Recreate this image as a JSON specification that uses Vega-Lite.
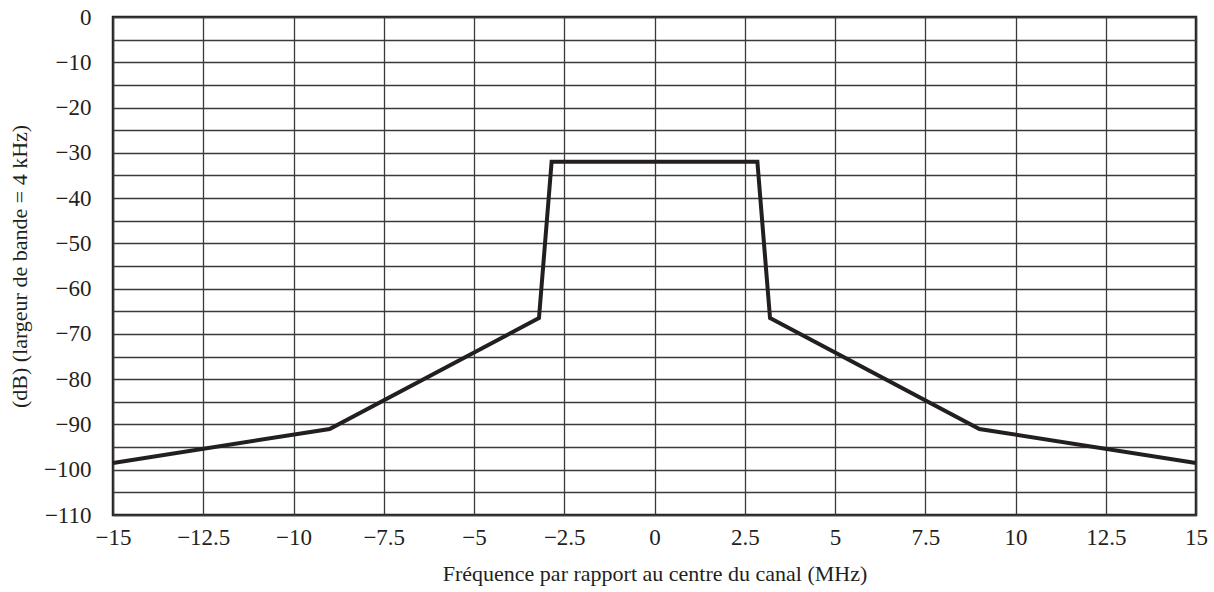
{
  "$schema": "https://vega.github.io/schema/vega-lite/v6.json",
  "width": 1083,
  "height": 498,
  "autosize": {"type": "none"},
  "padding": {"left": 113, "top": 17, "right": 18, "bottom": 77},
  "background": "white",
  "config": {
    "view": {"stroke": "#231f20", "strokeWidth": 2.5},
    "axis": {
      "labelFont": "Liberation Serif",
      "labelFontSize": 23,
      "labelColor": "#231f20",
      "titleFont": "Liberation Serif",
      "titleFontSize": 22,
      "titleFontWeight": "normal",
      "titleColor": "#231f20",
      "domain": false,
      "ticks": false,
      "gridColor": "#3a3a3a",
      "gridWidth": 1.3,
      "gridOpacity": 1,
      "labelFlush": false
    }
  },
  "data": {
    "values": [
      {"f": -15, "db": -98.5},
      {"f": -9, "db": -91},
      {"f": -3.2, "db": -66.5},
      {"f": -2.85, "db": -32},
      {"f": 2.85, "db": -32},
      {"f": 3.2, "db": -66.5},
      {"f": 9, "db": -91},
      {"f": 15, "db": -98.5}
    ]
  },
  "mark": {"type": "line", "color": "#231f20", "strokeWidth": 4, "strokeJoin": "miter"},
  "encoding": {
    "x": {
      "field": "f",
      "type": "quantitative",
      "scale": {"domain": [-15, 15], "nice": false, "zero": false},
      "axis": {
        "values": [-15, -12.5, -10, -7.5, -5, -2.5, 0, 2.5, 5, 7.5, 10, 12.5, 15],
        "labelExpr": "replace(toString(datum.value), '-', '\u2212')",
        "labelPadding": 11,
        "title": "Fréquence par rapport au centre du canal (MHz)",
        "titlePadding": 14
      }
    },
    "y": {
      "field": "db",
      "type": "quantitative",
      "scale": {"domain": [-110, 0], "nice": false, "zero": false},
      "axis": {
        "values": [0, -5, -10, -15, -20, -25, -30, -35, -40, -45, -50, -55, -60, -65, -70, -75, -80, -85, -90, -95, -100, -105, -110],
        "labelExpr": "datum.value % 10 === 0 ? replace(toString(datum.value), '-', '\u2212') : ''",
        "labelPadding": 22,
        "title": "(dB) (largeur de bande = 4 kHz)",
        "titlePadding": 12
      }
    }
  }
}
